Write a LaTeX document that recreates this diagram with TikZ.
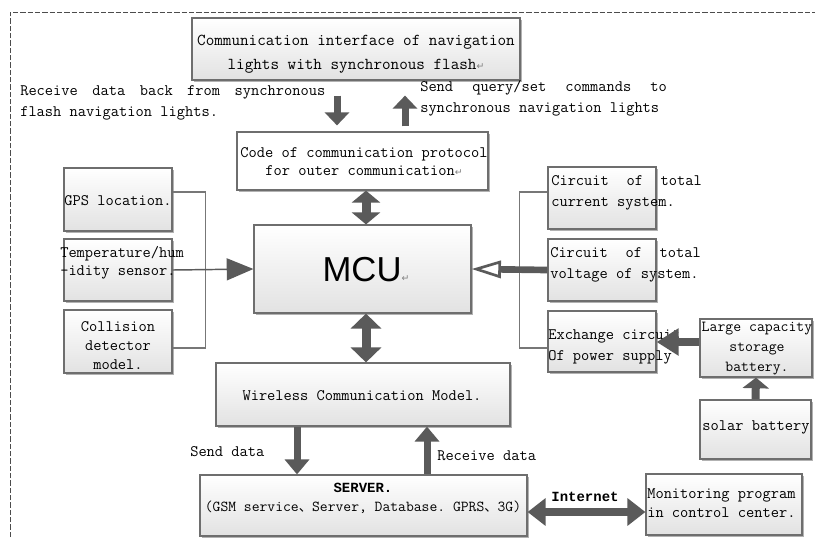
\documentclass[tikz,border=0pt]{standalone}
\usepackage{fontspec}
\setmainfont{Liberation Serif}
\setmonofont{Latin Modern Mono}
\setsansfont{Liberation Sans}
\newfontfamily\djv{DejaVu Sans}
\newfontfamily\cjk{Noto Sans CJK SC}
\newfontfamily\boldmono{Liberation Mono}
\usetikzlibrary{arrows.meta,shadows,fit}
\definecolor{arrowgray}{HTML}{5A5A5A}
\definecolor{bordergray}{HTML}{6E6E6E}
\definecolor{boxbottom}{HTML}{E2E2E2}
\definecolor{linegray}{HTML}{777777}
\newcommand\retmark{{\djv\fontsize{7pt}{7pt}\selectfont\textcolor{gray}{↵}}}
\newcommand\cjkcomma{{\cjk\fontsize{10pt}{10pt}\selectfont 、}}
\tikzset{
  box/.style={draw=bordergray, line width=0.9pt, inner sep=0pt,
    top color=white, bottom color=boxbottom,
    drop shadow={shadow xshift=1.5pt, shadow yshift=-1.5pt, opacity=0.3, fill=black}},
  flatbox/.style={draw=bordergray, line width=0.9pt, inner sep=0pt, fill=white,
    drop shadow={shadow xshift=1.5pt, shadow yshift=-1.5pt, opacity=0.3, fill=black}},
  txt/.style={inner sep=0pt, align=center},
  ltxt/.style={inner sep=0pt, align=left},
  conn/.style={draw=linegray, line width=1.1pt},
  barrow/.style n args={3}{draw=arrowgray, line width=#1, -{Triangle[width=#2,length=#3]}},
  dbarrow/.style n args={3}{draw=arrowgray, line width=#1, {Triangle[width=#2,length=#3]}-{Triangle[width=#2,length=#3]}},
  border/.style={draw=black!70, line width=0.75pt, dash pattern=on 4pt off 1.5pt}
}
\begin{document}
\begin{tikzpicture}[x=0.75pt,y=-0.75pt,
  font=\ttfamily\fontsize{12pt}{15.75pt}\selectfont]
\useasboundingbox (0,0) rectangle (815,537);
\fill[white] (0,0) rectangle (815,537);

% dashed frame
\draw[border] (10,537) -- (10,12) -- (815,12);

% helper coordinates
\coordinate (xa) at (337,0);
\coordinate (xb) at (405,0);
\coordinate (xs) at (297,0);
\coordinate (xr) at (427,0);
\coordinate (yi) at (0,512);
\coordinate (yl) at (0,342);

% boxes
\node[box, fit={(192,18) (520,80)}] (ci) {};
\node[flatbox, fit={(237,132) (488,190)}] (code) {};
\node[box, fit={(254,225) (471,313)}] (mcu) {};
\node[box, fit={(64,168) (172,231)}] (gps) {};
\node[box, fit={(64,239) (172,301)}] (tmp) {};
\node[box, fit={(64,310) (172,373)}] (col) {};
\node[box, fit={(548,167) (656,229)}] (cur) {};
\node[box, fit={(548,239) (656,301)}] (volt) {};
\node[box, fit={(548,311) (656,372)}] (exch) {};
\node[box, fit={(700,319) (812,377)}] (lg) {};
\node[box, fit={(700,400) (811,459)}] (sol) {};
\node[box, fit={(216,363) (510,426)}] (wl) {};
\node[box, fit={(200,475) (527,536)}] (srv) {};
\node[box, fit={(646,474) (802,535)}] (mon) {};

% texts
\node[txt, font=\ttfamily\fontsize{12.5pt}{18pt}\selectfont] (tci) at (356,54)
  {Communication interface of navigation\\lights with synchronous flash\retmark};
\node[ltxt, anchor=west] (trecv) at (20,102.5)
  {\makebox[228.75pt][l]{Receive\hfill data\hfill back\hfill from\hfill synchronous}\\flash navigation lights.};
\node[ltxt, anchor=west] (tsend) at (420,98.5)
  {\makebox[185pt][l]{Send\hfill query/set\hfill commands\hfill to}\\synchronous navigation lights};
\node[txt, font=\ttfamily\fontsize{12pt}{13.5pt}\selectfont] (tcode) at (364,162)
  {Code of communication protocol\\for outer communication\retmark};
\node[txt, font=\sffamily\fontsize{26pt}{26pt}\selectfont] (tmcu) at (366,270) {MCU\retmark};
\node[txt] (tgps) at (118,201) {GPS location.};
\node[ltxt, anchor=west, font=\ttfamily\fontsize{12pt}{13.5pt}\selectfont] (ttmp) at (60,263)
  {Temperature/hum\\-idity sensor.};
\node[txt, font=\ttfamily\fontsize{12pt}{14.25pt}\selectfont] (tcol) at (118,346)
  {Collision\\detector\\model.};
\node[ltxt, anchor=west] (tcur) at (551,193)
  {\makebox[113pt][l]{Circuit\hfill of\hfill total}\\current system.};
\node[ltxt, anchor=west] (tvolt) at (550,265)
  {\makebox[113pt][l]{Circuit\hfill of\hfill total}\\voltage of system.};
\node[ltxt, anchor=west] (texch) at (548,347)
  {Exchange circuit\\Of power supply};
\node[txt, font=\ttfamily\fontsize{11.5pt}{15pt}\selectfont] (tlg) at (757,349) {Large capacity\\storage\\battery.};
\node[txt] (tsol) at (756,427) {solar battery};
\node[txt] (twl) at (362,396) {Wireless Communication Model.};
\node[ltxt, anchor=west] (tsd) at (190,452) {Send data};
\node[ltxt, anchor=west] (trd) at (437,456) {Receive data};
\node[txt, font=\boldmono\bfseries\fontsize{10.5pt}{12pt}\selectfont] (tsrv1) at (363,488) {SERVER.};
\node[txt, font=\ttfamily\fontsize{11.4pt}{12pt}\selectfont] (tsrv2) at (363,507)
  {(GSM service\cjkcomma Server, Database. GPRS\cjkcomma 3G)};
\node[txt, font=\boldmono\bfseries\fontsize{10.5pt}{12pt}\selectfont] (tint) at (585,497) {Internet};
\node[ltxt, anchor=west, font=\ttfamily\fontsize{12pt}{14.25pt}\selectfont] (tmon) at (647,503.5)
  {Monitoring program\\in control center.};

% brackets
\draw[conn] ([yshift=5.6pt]gps.east) -- ++(33,0) |- ([yshift=-4.9pt]col.east);
\draw[conn] ([yshift=4.5pt]cur.west) -- ++(-28,0) |- ([yshift=-4.9pt]exch.west);

% arrows
\draw[conn, draw=arrowgray, -{Triangle[width=16.5pt,length=20pt]}] (tmp.east) -- (mcu.west);
\draw[draw=arrowgray, line width=5pt,
  -{Triangle[open, fill=white, width=13pt, length=22pt, line width=2pt]}] (volt.west) -- (mcu.east);
\draw[barrow={5.25pt}{18pt}{9.75pt}, shorten <=11.25pt, shorten >=4.5pt]
  (ci.south -| xa) -- (code.north -| xa);
\draw[barrow={5.25pt}{18pt}{9.75pt}, shorten <=3.75pt, shorten >=11.25pt]
  (code.north -| xb) -- (ci.south -| xb);
\draw[dbarrow={6.75pt}{21pt}{9pt}] (code.south -| tmcu) -- (mcu.north -| tmcu);
\draw[dbarrow={6.75pt}{22.5pt}{11.25pt}] (mcu.south -| tmcu) -- (wl.north -| tmcu);
\draw[barrow={5.25pt}{18pt}{11.25pt}] (wl.south -| xs) -- (srv.north -| xs);
\draw[barrow={5.25pt}{18pt}{11.25pt}] (srv.north -| xr) -- (wl.south -| xr);
\draw[dbarrow={6pt}{20pt}{13.5pt}] (srv.east |- yi) -- (mon.west |- yi);
\draw[barrow={6pt}{19.5pt}{16.5pt}] (lg.west |- yl) -- (exch.east |- yl);
\draw[barrow={6pt}{19.5pt}{8pt}] (sol.north) -- (lg.south);
\end{tikzpicture}
\end{document}
